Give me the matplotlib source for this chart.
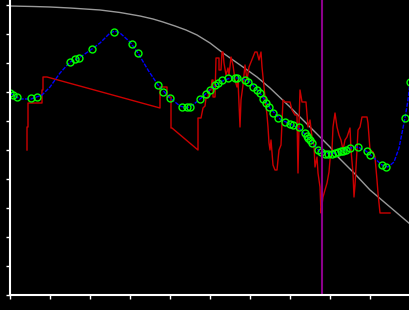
import matplotlib.pyplot as plt

# Gray reference curve
gray_x = [0, 23, 40, 60, 90, 110, 130, 143, 153, 165, 176, 187, 200, 213, 233, 247, 260, 280, 300,
          320, 328, 345, 360, 380, 400]
gray_y = [289, 288.5, 288, 287, 285, 282.5, 279, 276, 273, 269, 265, 260, 252, 242, 228, 218, 207,
          188, 168, 148, 138, 121, 105, 88, 71]

# Red measured series
red_x = [17, 17, 18, 18, 32, 32, 33, 33, 37, 150, 150, 157, 157, 161, 161, 162, 188, 188, 191, 192,
         193, 195, 196, 198, 199, 201, 202, 203, 203, 205, 206, 209, 209, 211, 212, 213, 214, 216,
         218, 219, 221, 223, 225, 227, 228, 230, 231, 233, 235, 237, 239, 241, 243, 245, 247, 249,
         251, 252, 254, 255, 257, 258, 259, 260, 261, 263, 265, 267, 269, 271, 273, 275, 280, 282,
         285, 287, 288, 289, 290, 292, 296, 298, 300, 302, 304, 305, 307, 308, 310, 311, 312, 313,
         315, 317, 319, 320, 322, 323, 325, 327, 329, 331, 333, 335, 337, 340, 341, 343, 344, 345,
         347, 348, 350, 352, 357, 358, 360, 363, 365, 367, 368, 370, 380]
red_y = [145, 168, 168, 192, 192, 205, 205, 218, 218, 187, 208, 208, 198, 198, 167, 167, 145, 177,
         177, 182, 187, 189, 197, 197, 205, 205, 215, 215, 198, 198, 237, 237, 225, 225, 243, 243,
         232, 220, 227, 220, 238, 230, 215, 208, 215, 168, 195, 210, 230, 215, 228, 233, 238, 243,
         243, 235, 243, 228, 208, 198, 180, 168, 152, 145, 155, 130, 125, 125, 145, 150, 195, 193,
         193, 185, 180, 180, 122, 170, 205, 193, 193, 168, 175, 158, 150, 128, 138, 122, 108, 82,
         90, 98, 105, 112, 123, 135, 145, 168, 182, 168, 160, 155, 145, 155, 158, 167, 145, 122,
         98, 110, 145, 165, 168, 178, 178, 172, 145, 143, 138, 115, 102, 82, 82]

# Blue fitted curve
blue_x = [0, 10, 21, 32, 40, 50, 60, 69, 82, 90, 100, 105, 110, 120, 128, 138, 148, 160, 170, 177,
          184, 190, 200, 210, 220, 230, 240, 250, 260, 270, 280, 290, 300, 310, 320, 330, 340, 348,
          356, 364, 372, 378, 384, 389, 395, 398, 400]
blue_y = [202, 196, 196, 200, 208, 222, 233, 237, 246, 252, 262, 264, 262, 253, 242, 225, 210, 197,
          189, 187, 191, 196, 205, 213, 217, 217, 213, 202, 187, 176, 171, 166, 155, 143, 141, 143,
          147, 148, 144, 137, 130, 128, 133, 147, 177, 195, 213]

# Green sample points
pts_x = [0, 3, 7, 21, 27, 60, 65, 69, 82, 104, 122, 128, 148, 153, 160, 172, 177, 180, 190, 196,
         200, 205, 208, 212, 218, 225, 227, 235, 238, 243, 247, 250, 253, 256, 259, 263, 268, 275,
         280, 283, 289, 295, 297, 298, 300, 302, 308, 311, 315, 318, 322, 325, 328, 331, 333, 336,
         340, 348, 357, 360, 372, 376, 395, 400]
pts_y = [202, 200, 198, 197, 198, 233, 236, 237, 246, 263, 251, 242, 210, 203, 197, 188, 188, 188,
         196, 201, 205, 210, 212, 215, 217, 217, 217, 215, 213, 208, 205, 202, 196, 192, 188, 182,
         177, 173, 171, 170, 168, 162, 159, 157, 155, 152, 145, 143, 141, 141, 141, 142, 143, 144,
         144, 145, 147, 148, 144, 140, 130, 128, 177, 213]

# Vertical marker position
vline_x = 312

fig = plt.figure(figsize=(4.1, 3.1), dpi=100, facecolor='black')
ax = fig.add_axes([10 / 410, 15 / 310, 400 / 410, 295 / 310], facecolor='black')

ax.plot(gray_x, gray_y, color='#9a9a9a', lw=1)
ax.plot(red_x, red_y, color='#cc0000', lw=1)
ax.plot(blue_x, blue_y, color='#0000ff', lw=1, linestyle=(0, (3, 1)))
ax.plot(pts_x, pts_y, 'o', mfc='none', mec='#00ff00', mew=1, ms=5)
ax.axvline(vline_x, color='#8b008b', lw=1.5)

ax.set_xlim(0, 400)
ax.set_ylim(0, 295)
ax.set_xticks(range(0, 401, 40))
ax.set_yticks(range(0, 291, 29))
ax.tick_params(colors='white', length=3, width=1, labelleft=False, labelbottom=False)

for side in ['top', 'right']:
    ax.spines[side].set_visible(False)
for side in ['left', 'bottom']:
    ax.spines[side].set_color('white')
    ax.spines[side].set_linewidth(1.5)

fig.savefig('out.png', dpi=100, facecolor='black')
